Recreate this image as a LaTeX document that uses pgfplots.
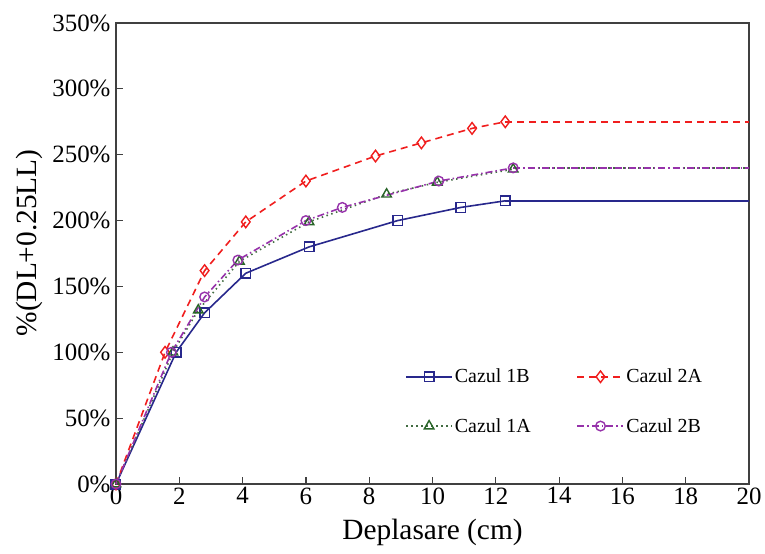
\documentclass[border=0pt]{standalone}
\usepackage{fontspec}
\setmainfont{Liberation Serif}
\usepackage{pgfplots}
\pgfplotsset{compat=1.18}
\definecolor{c1b}{RGB}{40,40,140}
\definecolor{c2a}{RGB}{240,30,30}
\definecolor{c1a}{RGB}{40,100,40}
\definecolor{c2b}{RGB}{150,50,170}
\begin{document}
\begin{tikzpicture}
\begin{axis}[
 scale only axis, width=633bp, height=461bp,
 xmin=0,xmax=20,ymin=0,ymax=350,
 xtick={0,2,...,20}, xticklabels={0,2,4,6,8,10,12,14,16,18,20},
 ytick={0,50,...,350}, yticklabels={0\%,50\%,100\%,150\%,200\%,250\%,300\%,350\%},
 tick align=inside, xtick pos=bottom, ytick pos=left,
 major tick length=7bp,
 axis line style={draw=black!75, line width=1.2bp},
 tick style={black!75, line width=1.2bp},
 ticklabel style={font=\fontsize{25}{30}\selectfont},
 yticklabel style={xshift=-2bp},
 label style={font=\fontsize{29.5}{34}\selectfont},
 xlabel={Deplasare (cm)}, ylabel={\%(DL+0.25LL)},
 xlabel style={at={(axis description cs:0.5,-0.106)},anchor=center},
 ylabel style={at={(axis description cs:-0.1375,0.523)},anchor=center,rotate=0},
 clip=false,
 legend columns=2,
 legend style={at={(0.452,0.1)},anchor=south west,draw=none,fill=none,
   font=\fontsize{20}{24}\selectfont, row sep=30bp,
   /tikz/every even column/.append style={column sep=44bp}},
 legend cell align=left,
 legend image code/.code={\draw[mark repeat=2,mark phase=2,#1] plot coordinates {(0bp,0bp)(23bp,0bp)(46bp,0bp)};},
]
\addplot[c1b, line width=1.6bp, mark=square, mark size=4.8bp, mark options={solid,line width=1.4bp}]
 coordinates {(0,0)(1.9,100)(2.8,130)(4.1,160)(6.1,180)(8.9,200)(10.9,210)(12.3,215)};
\addlegendentry{Cazul 1B}
\addplot[c2a, line width=1.6bp, dash pattern=on 7bp off 5bp, mark=diamond, mark size=5.8bp, mark options={solid,line width=1.4bp}]
 coordinates {(0,0)(1.55,100)(2.8,162)(4.1,199)(6.0,230)(8.2,249)(9.65,259)(11.25,270)(12.3,275)};
\addlegendentry{Cazul 2A}
\addplot[c1a!70!gray, line width=1.6bp, dash pattern=on 1.5bp off 3.5bp, mark=triangle, mark size=5.5bp, mark options={solid,draw=c1a,line width=1.4bp}]
 coordinates {(0,0)(1.8,100)(2.6,132)(3.9,169)(6.1,199)(8.55,220)(10.15,229)(12.55,239)};
\addlegendentry{Cazul 1A}
\addplot[c2b, line width=1.6bp, dash pattern=on 7bp off 3bp on 1.5bp off 3bp, mark=o, mark size=4.8bp, mark options={solid,line width=1.4bp}]
 coordinates {(0,0)(1.75,100)(2.8,142)(3.85,170)(6.0,200)(7.15,210)(10.2,230)(12.55,240)};
\addlegendentry{Cazul 2B}
\addplot[forget plot, c1b, line width=1.6bp] coordinates {(12.3,215)(20,215)};
\addplot[forget plot, c2a, line width=1.6bp, dash pattern=on 7bp off 5bp] coordinates {(12.3,275)(20,275)};
\addplot[forget plot, c1a!70!gray, line width=1.6bp, dash pattern=on 1.5bp off 3.5bp] coordinates {(12.55,240)(20,240)};
\addplot[forget plot, c2b, line width=1.6bp, dash pattern=on 7bp off 3bp on 1.5bp off 3bp] coordinates {(12.55,240)(20,240)};
\end{axis}
\path[use as bounding box] (-116bp,-70bp) rectangle (649bp,484bp);
\end{tikzpicture}
\end{document}
